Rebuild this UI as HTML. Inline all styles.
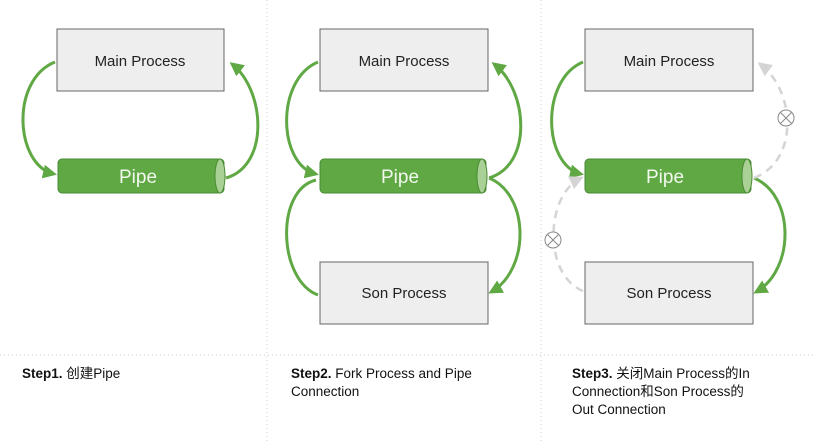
<!DOCTYPE html>
<html><head><meta charset="utf-8"><style>
html,body{margin:0;padding:0;background:#fff}
svg{display:block}
text{font-family:"Liberation Sans","Noto Sans CJK SC",sans-serif}
</style></head><body>
<svg width="816" height="442" viewBox="0 0 816 442" xmlns="http://www.w3.org/2000/svg">
<defs>
<marker id="ag" markerWidth="14" markerHeight="14" refX="11" refY="7" orient="auto" markerUnits="userSpaceOnUse"><path d="M0,0 L14,7 L0,14 Z" fill="#5fa844"/></marker>
<marker id="ay" markerWidth="14" markerHeight="14" refX="11" refY="7" orient="auto" markerUnits="userSpaceOnUse"><path d="M0,0 L14,7 L0,14 Z" fill="#d4d4d4"/></marker>
<g id="pipe">
<rect x="0" y="0" width="166" height="34" rx="4" fill="#5fa844" stroke="#4a8a34" stroke-width="1"/>
<ellipse cx="162" cy="17" rx="5" ry="17" fill="#a9d195" stroke="#4a8a34" stroke-width="1"/>
<text x="80" y="24" font-size="19" fill="#f2f8ee" text-anchor="middle">Pipe</text>
</g>
</defs>
<g stroke="#cfcfcf" stroke-width="1" stroke-dasharray="1,3">
<line x1="267" y1="0" x2="267" y2="442"/>
<line x1="541" y1="0" x2="541" y2="442"/>
<line x1="0" y1="355" x2="816" y2="355"/>
</g>
<!-- Panel 1 -->
<rect x="57" y="29" width="167" height="62" fill="#eeeeee" stroke="#666" stroke-width="1"/>
<text x="140" y="66" font-size="15" fill="#222" text-anchor="middle">Main Process</text>
<use href="#pipe" x="58" y="159"/>
<path d="M55,62 C10,80 15,165 54,174" fill="none" stroke="#5fa844" stroke-width="3" marker-end="url(#ag)"/>
<path d="M226,178 C270,165 265,90 232,64" fill="none" stroke="#5fa844" stroke-width="3" marker-end="url(#ag)"/>
<!-- Panel 2 -->
<rect x="320" y="29" width="168" height="62" fill="#eeeeee" stroke="#666" stroke-width="1"/>
<text x="404" y="66" font-size="15" fill="#222" text-anchor="middle">Main Process</text>
<use href="#pipe" x="320" y="159"/>
<rect x="320" y="262" width="168" height="62" fill="#eeeeee" stroke="#666" stroke-width="1"/>
<text x="404" y="298" font-size="15" fill="#222" text-anchor="middle">Son Process</text>
<path d="M318,62 C275,80 278,165 316,174" fill="none" stroke="#5fa844" stroke-width="3" marker-end="url(#ag)"/>
<path d="M489,178 C533,165 528,90 494,64" fill="none" stroke="#5fa844" stroke-width="3" marker-end="url(#ag)"/>
<path d="M318,295 C278,280 275,190 316,180" fill="none" stroke="#5fa844" stroke-width="3"/>
<path d="M489,178 C530,195 530,270 491,292" fill="none" stroke="#5fa844" stroke-width="3" marker-end="url(#ag)"/>
<!-- Panel 3 -->
<rect x="585" y="29" width="168" height="62" fill="#eeeeee" stroke="#666" stroke-width="1"/>
<text x="669" y="66" font-size="15" fill="#222" text-anchor="middle">Main Process</text>
<use href="#pipe" x="585" y="159"/>
<rect x="585" y="262" width="168" height="62" fill="#eeeeee" stroke="#666" stroke-width="1"/>
<text x="669" y="298" font-size="15" fill="#222" text-anchor="middle">Son Process</text>
<path d="M583,62 C540,80 543,165 581,174" fill="none" stroke="#5fa844" stroke-width="3" marker-end="url(#ag)"/>
<path d="M754,178 C795,195 795,270 756,292" fill="none" stroke="#5fa844" stroke-width="3" marker-end="url(#ag)"/>
<path d="M754,178 C800,160 795,90 760,64" fill="none" stroke="#d4d4d4" stroke-width="2.5" stroke-dasharray="8,6" marker-end="url(#ay)"/>
<path d="M583,291 C543,275 545,195 581,178" fill="none" stroke="#d4d4d4" stroke-width="2.5" stroke-dasharray="8,6" marker-end="url(#ay)"/>
<g fill="#fff" stroke="#888" stroke-width="1">
<circle cx="786" cy="118" r="8"/><line x1="780.5" y1="112.5" x2="791.5" y2="123.5"/><line x1="791.5" y1="112.5" x2="780.5" y2="123.5"/>
<circle cx="553" cy="240" r="8"/><line x1="547.5" y1="234.5" x2="558.5" y2="245.5"/><line x1="558.5" y1="234.5" x2="547.5" y2="245.5"/>
</g>
<!-- captions -->
<g font-size="13.5" fill="#111">
<text x="22" y="378"><tspan font-weight="bold">Step1.</tspan> 创建Pipe</text>
<text x="291" y="378"><tspan font-weight="bold">Step2.</tspan> Fork Process and Pipe</text>
<text x="291" y="396">Connection</text>
<text x="572" y="378"><tspan font-weight="bold">Step3.</tspan> 关闭Main Process的In</text>
<text x="572" y="396">Connection和Son Process的</text>
<text x="572" y="414">Out Connection</text>
</g>
</svg>
</body></html>
